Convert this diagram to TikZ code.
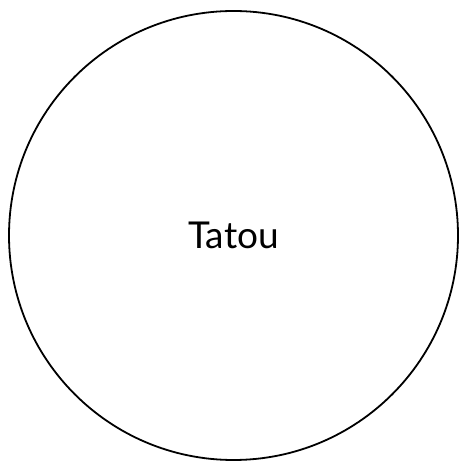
\documentclass[tikz,border=0pt]{standalone}
\usepackage{fontspec}
\setmainfont{Lato}
\usetikzlibrary{positioning}
\tikzset{
  animal/.style={
    draw,
    circle,
    line width=1.8pt,
    minimum size=449pt,
    inner sep=0pt,
    font=\fontsize{37}{41}\selectfont
  }
}
\begin{document}
\begin{tikzpicture}[x=1pt, y=1pt]
  \useasboundingbox (0,0) rectangle (458,462);
  % one big circle
  \node[animal] (tatou) at (233.5,226.5) {Tatou};
\end{tikzpicture}
\end{document}
